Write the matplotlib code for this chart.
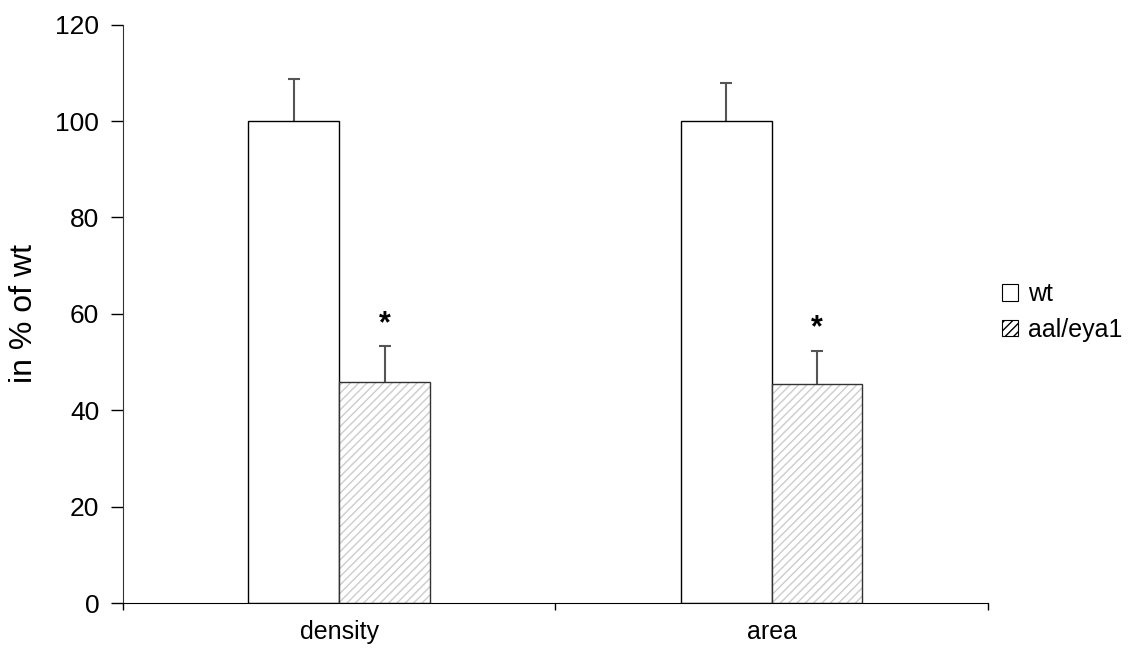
import matplotlib.pyplot as plt
import numpy as np
from matplotlib.patches import Patch

plt.rcParams["font.family"] = ["Liberation Sans", "DejaVu Sans"]

# data
categories = ["density", "area"]
series_names = ["wt", "aal/eya1"]
wt_values = [100.0, 100.0]
wt_err = [8.8, 8.0]
mut_values = [45.8, 45.5]
mut_err = [7.5, 6.8]
significant = [True, True]

fig = plt.figure(figsize=(11.44, 6.5), dpi=100)
ax = fig.add_axes([0.1075, 0.0723, 0.756, 0.8897])

x = np.arange(len(categories))
width = 0.21


def upper_errorbar(xpos, vals, errs):
    # only the upper whisker and cap, like the original
    _, caps, _ = ax.errorbar(xpos, vals, yerr=[np.zeros(len(vals)), errs], fmt="none",
                             ecolor="#555555", elinewidth=1.5, capsize=4.5, capthick=1.5,
                             zorder=1)
    caps[0].remove()


# wt bars: plain white
ax.bar(x - width / 2, wt_values, width, color="white", edgecolor="black", linewidth=1.0, zorder=2)
upper_errorbar(x - width / 2, wt_values, wt_err)

# mutant bars: light grey hatch
plt.rcParams["hatch.color"] = "#cccccc"
plt.rcParams["hatch.linewidth"] = 1.0
ax.bar(x + width / 2, mut_values, width, color="white", edgecolor="#cccccc", hatch="////",
       linewidth=0, zorder=2)
ax.bar(x + width / 2, mut_values, width, fill=False, edgecolor="#333333", linewidth=1.0, zorder=3)
upper_errorbar(x + width / 2, mut_values, mut_err)

for xi, v, e, sig in zip(x, mut_values, mut_err, significant):
    if sig:
        ax.text(xi + width / 2, v + e + 1.5, "*", ha="center", va="bottom", fontsize=22,
                fontweight="bold")

ax.set_xlim(-0.5, 1.5)
ax.set_ylim(0, 120)
ax.set_yticks(np.arange(0, 121, 20))
ax.set_xticks(x)
ax.set_xticklabels(categories, fontsize=18)
ax.set_xticks([-0.5, 0.5, 1.5], minor=True)
ax.tick_params(axis="x", which="major", length=0, pad=12)
ax.tick_params(axis="x", which="minor", length=5, direction="out", width=1)
ax.tick_params(axis="y", length=9, direction="out", width=1, labelsize=19, pad=8)

ax.spines["top"].set_visible(False)
ax.spines["right"].set_visible(False)
ax.spines["left"].set_color("#333333")
ax.spines["bottom"].set_color("black")

ax.set_ylabel("in % of wt", fontsize=23, labelpad=12)

handles = [
    Patch(facecolor="white", edgecolor="black", linewidth=0.8, label=series_names[0]),
    Patch(facecolor="white", edgecolor="#cccccc", hatch="////", linewidth=0.8,
          label=series_names[1]),
]
leg = fig.legend(handles=handles, loc="center left", bbox_to_anchor=(0.876, 0.52),
                 frameon=False, fontsize=18, handlelength=0.65, handleheight=0.65,
                 handletextpad=0.4, labelspacing=0.45, borderpad=0, borderaxespad=0)
leg.legend_handles[1].set_edgecolor("black")

fig.savefig("out.png", dpi=100)
